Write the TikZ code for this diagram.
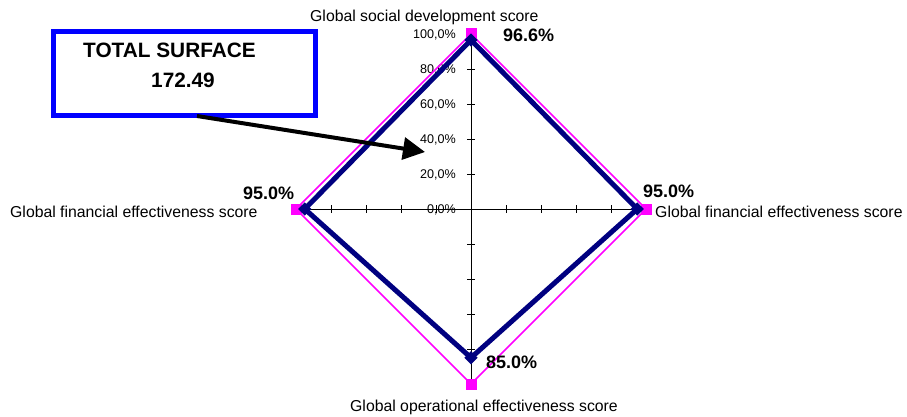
\documentclass[tikz,border=0pt]{standalone}
\usepackage{fontspec}
\setmainfont{Liberation Sans}
\usetikzlibrary{arrows.meta}
\definecolor{navyser}{RGB}{0,0,128}
\definecolor{pinkser}{RGB}{255,0,255}
\definecolor{boxblue}{RGB}{0,0,255}
\begin{document}
\begin{tikzpicture}[x=1pt,y=-1pt,
  catlab/.style={inner sep=0pt, anchor=base west, font=\fontsize{15.8}{18}\selectfont},
  vallab/.style={inner sep=0pt, anchor=base west, font=\fontsize{18}{20}\selectfont\bfseries},
  ticklab/.style={inner sep=0pt, anchor=base east, font=\fontsize{12.6}{14}\selectfont},
  boxtext/.style={inner sep=0pt, anchor=base west, font=\fontsize{20.8}{24}\selectfont\bfseries},
  axisline/.style={draw=black, line width=0.9pt},
  pinkmark/.style={fill=pinkser, inner sep=0pt, minimum size=11pt, rectangle},
  bluemark/.style={fill=navyser, inner sep=0pt, minimum size=9.5pt, rectangle, rotate=45},
  pinkline/.style={draw=pinkser, line width=1.5pt, line join=miter},
  blueline/.style={draw=navyser, line width=5pt, line join=miter},
  surfbox/.style={draw=boxblue, line width=5pt, minimum width=262pt, minimum height=84pt, inner sep=0pt},
  bigarrow/.style={draw=black, line width=4pt, -{Triangle[length=22pt,width=22pt]}}
]
\useasboundingbox (0,0) rectangle (907,417);

% axes
\coordinate (ctr) at (471,209);
\coordinate (atop) at (471,34);
\coordinate (abot) at (471,384);
\coordinate (aleft) at (296,209);
\coordinate (aright) at (646,209);
\draw[axisline] (atop) -- (abot);
\draw[axisline] (aleft) -- (aright);
\foreach \k in {1,...,5} {
  \draw[axisline] (467,209-35*\k) -- (475,209-35*\k);
  \draw[axisline] (467,209+35*\k) -- (475,209+35*\k);
  \draw[axisline] (471-35*\k,205) -- (471-35*\k,213);
  \draw[axisline] (471+35*\k,205) -- (471+35*\k,213);
}
\foreach \k/\t in {0/{0,0\%},1/{20,0\%},2/{40,0\%},3/{60,0\%},4/{80,0\%},5/{100,0\%}} {
  \node[ticklab] (tl\k) at (456,213.5-35*\k) {\t};
}

% reference series (100%)
\node[pinkmark] (p1) at (471,34) {};
\node[pinkmark] (p2) at (646,209) {};
\node[pinkmark] (p3) at (471,384) {};
\node[pinkmark] (p4) at (296,209) {};
\draw[pinkline] (p1.center) -- (p2.center) -- (p3.center) -- (p4.center) -- cycle;

% score series
\coordinate (b1) at (471,40.0);
\coordinate (b2) at (637.25,209);
\coordinate (b3) at (471,357.75);
\coordinate (b4) at (304.75,209);
\draw[blueline] (b1) -- (b2) -- (b3) -- (b4) -- cycle;
\node[bluemark] (m1) at (b1) {};
\node[bluemark] (m2) at (b2) {};
\node[bluemark] (m3) at (b3) {};
\node[bluemark] (m4) at (b4) {};

% category labels
\node[catlab] (ltop) at (310,22) {Global social development score};
\node[catlab] (lleft) at (10,217) {Global financial effectiveness score};
\node[catlab] (lright) at (655,217) {Global financial effectiveness score};
\node[catlab] (lbot) at (350,411) {Global operational effectiveness score};

% value labels
\node[vallab] (v1) at (503,42) {96.6\%};
\node[vallab] (v2) at (643,197) {95.0\%};
\node[vallab] (v3) at (486,368) {85.0\%};
\node[vallab] (v4) at (243,199) {95.0\%};

% total surface box
\node[surfbox] (box) at (184.5,73.5) {};
\node[boxtext] (bt1) at (83,58) {TOTAL SURFACE};
\node[boxtext] (bt2) at (151,88) {172.49};
\coordinate (astart) at (197,116);
\coordinate (atip) at (425,152);
\draw[bigarrow] (astart) -- (atip);
\end{tikzpicture}
\end{document}
